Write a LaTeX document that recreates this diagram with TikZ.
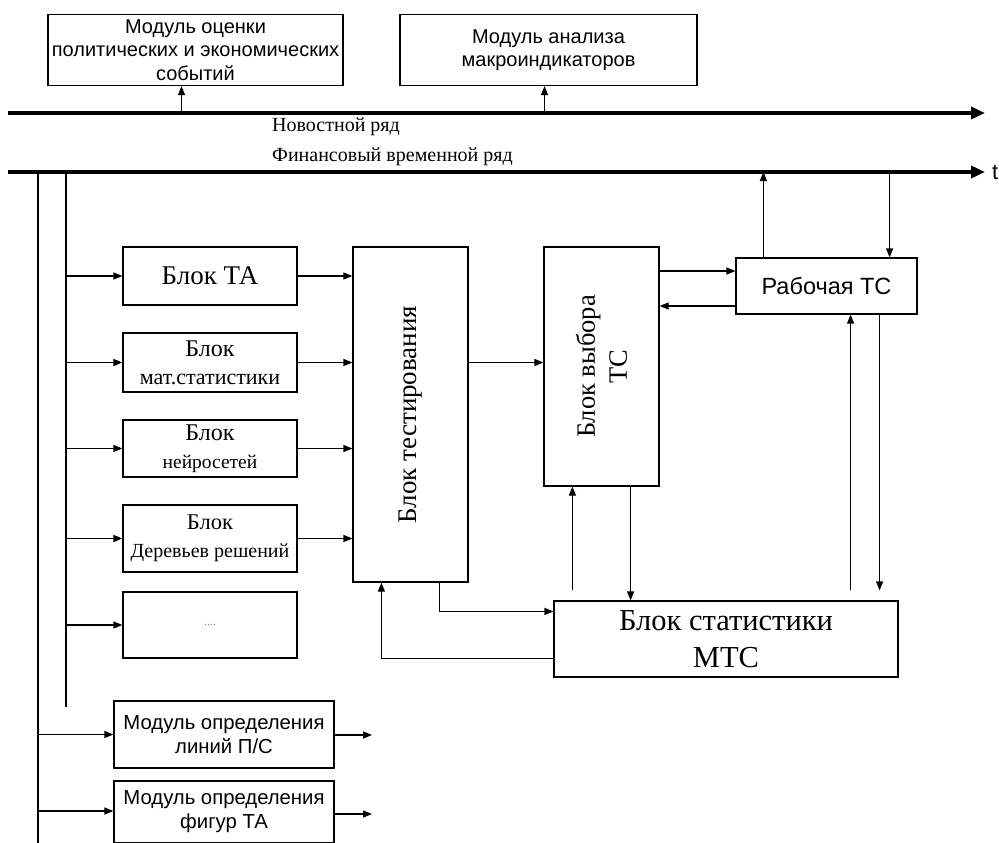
\documentclass[tikz,border=0pt]{standalone}
\usepackage{fontspec}
\setmainfont{Liberation Serif}
\setsansfont{Liberation Sans}
\usetikzlibrary{arrows.meta, positioning, calc}

\begin{document}
\begin{tikzpicture}[
  x=1pt, y=-1pt,
  box/.style={draw, line width=1.2pt, inner sep=1pt, align=center},
  modbox/.style={box, font=\sffamily\fontsize{20}{23.5}\selectfont},
  blockbox/.style={box, minimum width=174pt, font=\fontsize{24}{28}\selectfont},
  line/.style={line width=1.2pt},
  arr/.style={line, -{Triangle[length=9pt,width=7pt]}},
  bus/.style={line width=4pt, -{Triangle[length=14pt,width=12pt]}},
  serieslab/.style={anchor=west, font=\fontsize{20}{24}\selectfont, inner sep=0pt},
]
  \useasboundingbox (0,0) rectangle (999,843);

  % Top modules
  \node[modbox, minimum width=295pt, minimum height=71pt] (mod1) at (195.5,50) {Модуль оценки\\политических и экономических\\событий};
  \node[modbox, minimum width=297pt, minimum height=71pt] (mod2) at (548.5,50) {Модуль анализа\\макроиндикаторов};

  % Time lines
  \coordinate (newsL) at (8,113);
  \coordinate (newsR) at (985,113);
  \coordinate (finL) at (8,172);
  \coordinate (finR) at (985,172);
  \draw[bus] (newsL) -- (newsR);
  \draw[bus] (finL) -- (finR);
  \node[anchor=west, font=\sffamily\fontsize{22}{26}\selectfont, inner sep=0pt] (tlab) at (992,172) {t};
  \node[serieslab] (newslab) at (272,127) {Новостной ряд};
  \node[serieslab] (finlab) at (272,157) {Финансовый временной ряд};
  \draw[arr] ([xshift=-14pt]mod1.south |- newsL) -- ([xshift=-14pt]mod1.south);
  \draw[arr] ([xshift=-4pt]mod2.south |- newsL) -- ([xshift=-4pt]mod2.south);

  % Feeds from the financial series
  \coordinate (busA) at (38,172);
  \coordinate (busB) at (66,172);
  \draw[line] (busA) -- (38,843);
  \draw[line] (busB) -- (66,707);

  % Analysis blocks
  \node[blockbox, minimum height=58pt, font=\fontsize{27}{30}\selectfont] (ta) at (210,276) {Блок ТА};
  \node[blockbox, minimum height=59pt] (mstat) at (210,362.5) {Блок\\{\fontsize{22}{26}\selectfont мат.статистики}};
  \node[blockbox, minimum height=57pt] (neuro) at (210,448.5) {Блок\\{\fontsize{19.5}{22}\selectfont нейросетей}};
  \node[blockbox, minimum height=67pt] (trees) at (210,538.5) {{\fontsize{22.5}{26}\selectfont Блок}\\{\fontsize{20}{26}\selectfont Деревьев решений}};
  \node[blockbox, minimum height=66pt, font=\fontsize{12}{14}\selectfont, text=gray] (dots) at (210,625) {....};
  \foreach \b in {ta, mstat, neuro, trees, dots}
    \draw[arr] (\b.west -| busB) -- (\b.west);

  % Testing and selection
  \node[box, minimum width=115pt, minimum height=335pt] (test) at (410.5,414.5) {};
  \node[rotate=90, font=\fontsize{27}{32}\selectfont] (testlab) at (test.center) {Блок тестирования};
  \node[box, minimum width=115pt, minimum height=239pt] (vybor) at (601.5,366.5) {};
  \node[rotate=90, align=center, font=\fontsize{26.5}{32}\selectfont] (vyborlab) at (vybor.center) {Блок выбора\\ТС};
  \foreach \b in {ta, mstat, neuro, trees}
    \draw[arr] (\b.east) -- (\b.east -| test.west);
  \draw[arr] (mstat.east -| test.east) -- (mstat.east -| vybor.west);

  % Working TS
  \node[box, minimum width=181pt, minimum height=56pt, font=\sffamily\fontsize{23.5}{27}\selectfont] (rab) at (826.5,286) {Рабочая ТС};
  \draw[arr] ([yshift=15pt]rab.west -| vybor.east) -- ([yshift=15pt]rab.west);
  \draw[arr] ([yshift=-20pt]rab.west) -- ([yshift=-20pt]rab.west -| vybor.east);
  \draw[arr] ([xshift=28pt]rab.north west) -- ([xshift=28pt]rab.north west |- finL);
  \draw[arr] ([xshift=-28pt]rab.north east |- finL) -- ([xshift=-28pt]rab.north east);

  % Statistics block
  \node[box, minimum width=344pt, minimum height=76pt, font=\fontsize{30.5}{37}\selectfont] (stat) at (726,639) {Блок статистики\\МТС};
  \draw[arr, shorten <=10pt] ([xshift=-67pt]rab.south east |- stat.north) -- ([xshift=-67pt]rab.south east);
  \draw[arr, shorten >=10pt] ([xshift=-38pt]rab.south east) -- ([xshift=-38pt]rab.south east |- stat.north);
  \draw[arr, shorten <=10pt] ([xshift=29pt]vybor.south west |- stat.north) -- ([xshift=29pt]vybor.south west);
  \draw[arr] ([xshift=-29pt]vybor.south east) -- ([xshift=-29pt]vybor.south east |- stat.north);
  \draw[arr] ([xshift=-29pt]test.south east) |- ([yshift=-11pt]stat.north west);
  \draw[arr] ([yshift=19pt]stat.south west) -| ([xshift=29pt]test.south west);

  % Level and figure modules
  \node[modbox, minimum width=220pt, minimum height=67pt, font=\sffamily\fontsize{20.3}{24}\selectfont] (lvl) at (224,734.5) {Модуль определения\\линий П/С};
  \node[modbox, minimum width=220pt, minimum height=62pt, font=\sffamily\fontsize{20.3}{24}\selectfont] (fig) at (224,812) {Модуль определения\\фигур ТА};
  \coordinate (lvlOut) at (372,735);
  \coordinate (figOut) at (372,814);
  \draw[arr] (lvl.west -| busA) -- (lvl.west);
  \draw[arr] (lvl.east |- lvlOut) -- (lvlOut);
  \draw[arr] ([yshift=1pt]fig.west -| busA) -- ([yshift=1pt]fig.west);
  \draw[arr] (fig.east |- figOut) -- (figOut);
\end{tikzpicture}
\end{document}
